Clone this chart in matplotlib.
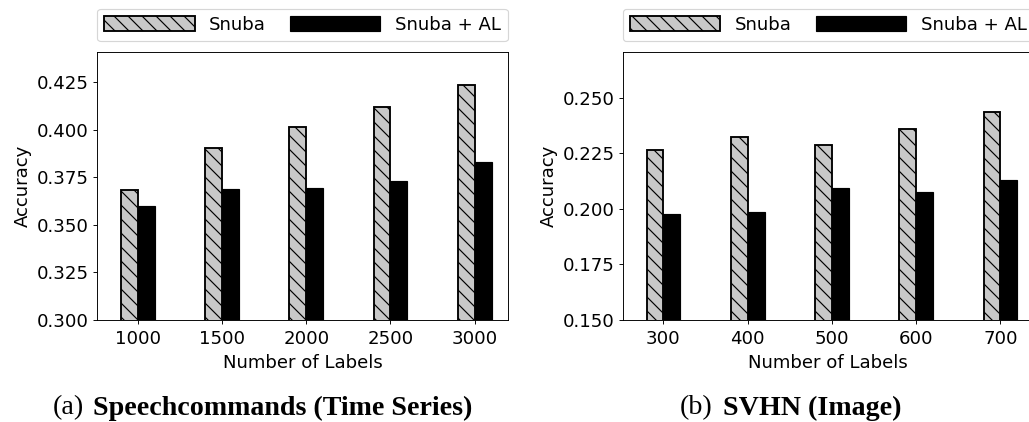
import numpy as np
import matplotlib
matplotlib.use('Agg')
import matplotlib.pyplot as plt

# Accuracy per label budget, two datasets
speech_labels = ['1000', '1500', '2000', '2500', '3000']
speech_snuba = [0.3685, 0.3903, 0.4015, 0.4120, 0.4232]
speech_snuba_al = [0.3598, 0.3688, 0.3695, 0.3728, 0.3830]

svhn_labels = ['300', '400', '500', '600', '700']
svhn_snuba = [0.2266, 0.2322, 0.2288, 0.2360, 0.2438]
svhn_snuba_al = [0.1975, 0.1986, 0.2096, 0.2075, 0.2129]

DPI = 84
FS = 15.5
fig = plt.figure(figsize=(1029 / DPI, 422 / DPI), dpi=DPI)
plt.rcParams['hatch.linewidth'] = 1.0

W = 0.2


def draw_panel(ax, labels, snuba, snuba_al, ylim, yticks):
    x = np.arange(len(labels))
    ax.bar(x - W / 2, snuba, W, color='#c8c8c8', edgecolor='black',
           linewidth=1.6, hatch='\\\\', label='Snuba')
    ax.bar(x + W / 2, snuba_al, W, color='black', edgecolor='black',
           linewidth=1.0, label='Snuba + AL')
    ax.set_xticks(x)
    ax.set_xticklabels(labels, fontsize=FS)
    ax.tick_params(axis='x', pad=5)
    ax.set_yticks(yticks)
    ax.set_yticklabels(['%.3f' % t for t in yticks], fontsize=FS)
    ax.set_xlim(-0.483, 4.395)
    ax.set_ylim(*ylim)
    ax.set_xlabel('Number of Labels', fontsize=FS, labelpad=5)
    ax.set_ylabel('Accuracy', fontsize=FS)
    ax.legend(loc='lower left', bbox_to_anchor=(0.0, 1.04, 1.0, 0.2),
              mode='expand', ncol=2, fontsize=FS, handlelength=5.0,
              handleheight=0.9, handletextpad=0.8, borderaxespad=0.0,
              borderpad=0.4)


ax1 = fig.add_axes([97 / 1029, 1 - 320 / 422, 411 / 1029, 268 / 422])
draw_panel(ax1, speech_labels, speech_snuba, speech_snuba_al,
           (0.300, 0.4408), np.arange(0.300, 0.4251, 0.025))

ax2 = fig.add_axes([622.7 / 1029, 1 - 320 / 422, 411 / 1029, 268 / 422])
draw_panel(ax2, svhn_labels, svhn_snuba, svhn_snuba_al,
           (0.150, 0.2706), np.arange(0.150, 0.2501, 0.025))

# sub-figure captions
cap_y = 1 - 408 / 422
serif = ['Liberation Serif', 'DejaVu Serif']
fig.text(53 / 1029, cap_y, '(a)', fontsize=24, family=serif, va='center', ha='left')
fig.text(93 / 1029, cap_y, 'Speechcommands (Time Series)', fontsize=24,
         family=serif, weight='bold', va='center', ha='left')
fig.text(680 / 1029, cap_y, '(b)', fontsize=24, family=serif, va='center', ha='left')
fig.text(723 / 1029, cap_y, 'SVHN (Image)', fontsize=24,
         family=serif, weight='bold', va='center', ha='left')

fig.savefig('out.png', dpi=DPI)
